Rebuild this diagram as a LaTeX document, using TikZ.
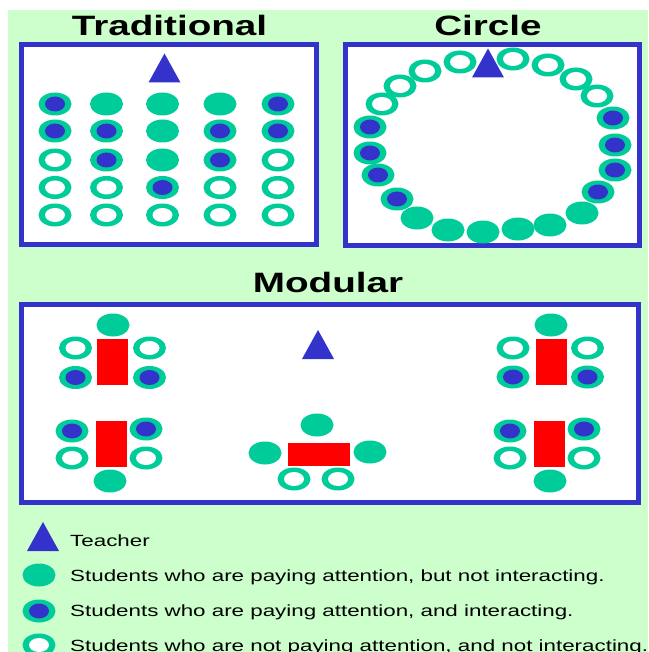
\documentclass[tikz,border=0pt]{standalone}
\usepackage{fontspec}
\setmainfont{Liberation Sans}
\newfontfamily\stretchedfont[FakeStretch=1.38]{Liberation Sans}
\usepackage{tikz}
\usetikzlibrary{shapes.geometric}

\definecolor{seat}{RGB}{0,204,153}
\definecolor{roomblue}{RGB}{51,51,204}
\definecolor{paper}{RGB}{204,255,204}

\tikzset{
  attentive/.style={ellipse, fill=seat, minimum width=33pt, minimum height=23pt, inner sep=0pt},
  interacting/.style={attentive, path picture={\fill[roomblue] (path picture bounding box.center) ellipse [x radius=10pt, y radius=7.5pt];}},
  idle/.style={attentive, path picture={\fill[white] (path picture bounding box.center) ellipse [x radius=10pt, y radius=7pt];}},
  desk/.style={fill=red, minimum width=31pt, minimum height=46pt, inner sep=0pt},
  widedesk/.style={desk, minimum width=62pt, minimum height=23pt},
  frame/.style={draw=roomblue, line width=5pt, fill=white},
  title/.style={font=\stretchedfont\bfseries\fontsize{28}{28}\selectfont, anchor=base, inner sep=0pt},
  legendtext/.style={font=\stretchedfont\fontsize{16.2}{18}\selectfont, anchor=base west, inner sep=0pt},
  teacher/.pic={\fill[roomblue] (0,-14.5) -- (16,14.5) -- (-16,14.5) -- cycle;}
}

\begin{document}
\begin{tikzpicture}[x=1pt, y=-1pt]
    \useasboundingbox (0,0) rectangle (648,652);
    \fill[white] (0,0) rectangle (648,652);
    \fill[paper] (8,10) rectangle (648,652);

    % traditional
    \node[title] (trad) at (169.5,36) {Traditional};
    \draw[frame] (21.5,44.5) rectangle (316.5,244.5);
    \pic at (164.5,68) {teacher};
    \foreach \x/\y/\kind in {55/104/interacting, 106.5/104/attentive, 162.5/104/attentive, 220/104/attentive, 278/104/interacting,
                             55/131/interacting, 106.5/131/interacting, 162.5/131/attentive, 220/131/interacting, 278/131/interacting,
                             55/160/idle, 106.5/160/interacting, 162.5/160/attentive, 220/160/interacting, 278/160/idle,
                             55/187.5/idle, 106.5/187.5/idle, 162.5/187.5/interacting, 220/187.5/idle, 278/187.5/idle,
                             55/215/idle, 106.5/215/idle, 162.5/215/idle, 220/215/idle, 278/215/idle}
        \node[\kind] (t-\x-\y) at (\x,\y) {};

    % circle
    \node[title] (circ) at (488,36) {Circle};
    \draw[frame] (345.5,44.5) rectangle (639.5,245.5);
    \foreach \x/\y/\kind [count=\i] in {460/62/idle, 425/71/idle, 400/86/idle, 382/104/idle,
                             370/127/interacting, 370/153/interacting, 378/175/interacting, 397/199/interacting,
                             417/218/attentive, 448/230/attentive, 483/232/attentive, 518/229/attentive, 550/225/attentive, 582/213/attentive,
                             598/192/interacting, 615/170/interacting, 615/145/interacting, 613/118/interacting,
                             597/96/idle, 576/79/idle, 548/65/idle, 513/59/idle}
        \node[\kind] (c\i) at (\x,\y) {};
    \pic at (488,63) {teacher};

    % modular
    \node[title] (modu) at (328,292) {Modular};
    \draw[frame] (21.5,304.5) rectangle (638.5,502.5);
    \pic at (318,344.5) {teacher};

    \node[desk] (d1) at (112.5,362) {};
    \node[attentive] (m1a) at (113,325) {};
    \node[idle] (m1b) at (75.5,348) {};
    \node[idle] (m1c) at (149.5,348) {};
    \node[interacting] (m1d) at (75.5,377.5) {};
    \node[interacting] (m1e) at (149.5,377.5) {};

    \node[desk] (d2) at (111.5,444) {};
    \node[interacting] (m2a) at (72,431) {};
    \node[interacting] (m2b) at (146,429) {};
    \node[idle] (m2c) at (72,458) {};
    \node[idle] (m2d) at (146,458) {};
    \node[attentive] (m2e) at (110,481) {};

    \node[widedesk] (d3) at (319,454.5) {};
    \node[attentive] (m3a) at (317,425) {};
    \node[attentive] (m3b) at (265,453) {};
    \node[attentive] (m3c) at (370,452) {};
    \node[idle] (m3d) at (294,479) {};
    \node[idle] (m3e) at (338,479) {};

    \node[desk] (d4) at (551.5,361.5) {};
    \node[attentive] (m4a) at (551,325) {};
    \node[idle] (m4b) at (513,348) {};
    \node[idle] (m4c) at (587.5,348) {};
    \node[interacting] (m4d) at (513,377) {};
    \node[interacting] (m4e) at (587.5,377) {};

    \node[desk] (d5) at (549.5,444) {};
    \node[interacting] (m5a) at (510,431) {};
    \node[interacting] (m5b) at (584,429) {};
    \node[idle] (m5c) at (510,458) {};
    \node[idle] (m5d) at (584,458) {};
    \node[attentive] (m5e) at (550,481) {};

    % legend
    \pic at (43,536.5) {teacher};
    \node[attentive] (l2) at (39,575) {};
    \node[interacting] (l3) at (39,611) {};
    \node[idle] (l4) at (39,645) {};
    \node[legendtext] (lt1) at (70,546) {Teacher};
    \node[legendtext] (lt2) at (70,581) {Students who are paying attention, but not interacting.};
    \node[legendtext] (lt3) at (70,616) {Students who are paying attention, and interacting.};
    \node[legendtext] (lt4) at (70,651) {Students who are not paying attention, and not interacting.};
\end{tikzpicture}
\end{document}
